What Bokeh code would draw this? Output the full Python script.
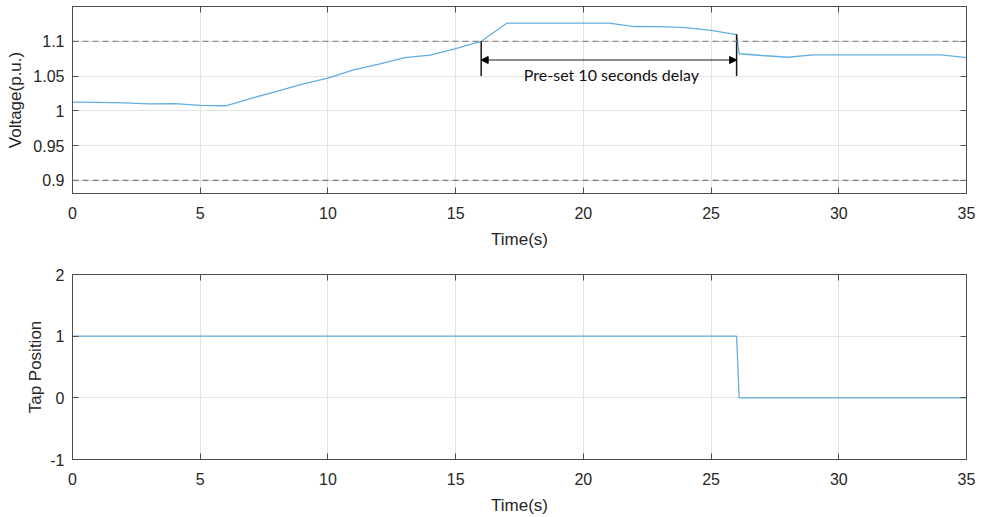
from bokeh.plotting import figure
from bokeh.layouts import column
from bokeh.models import (Span, Arrow, NormalHead, LinearAxis, FixedTicker,
                          Range1d, Label, CustomJSTickFormatter)
from bokeh.embed import file_html
from bokeh.resources import INLINE

# ---- data ----
time_v = [0, 1, 2, 3, 4, 5, 6, 7, 8, 9, 10, 11, 12, 13, 14, 15, 16, 17, 18, 19,
          20, 21, 22, 23, 24, 25, 26.0, 26.1, 27, 28, 29, 30, 31, 32, 33, 34, 35]
voltage = [1.0125, 1.0122, 1.0115, 1.0098, 1.0103, 1.0078, 1.0072, 1.018, 1.028,
           1.0385, 1.047, 1.0588, 1.067, 1.0765, 1.0800, 1.0894, 1.100, 1.126,
           1.126, 1.126, 1.126, 1.126, 1.1212, 1.1210, 1.1196, 1.1158, 1.1095,
           1.0820, 1.0795, 1.0770, 1.0803, 1.0803, 1.0803, 1.0803, 1.0803, 1.0803,
           1.0765]
time_tap = [0, 26.0, 26.1, 35]
tap = [1, 1, 0, 0]

limits = [1.1, 0.9]
delay_start, delay_end = 16, 26
marker_bottom = 1.05
marker_top_end = 1.11
arrow_level = 1.073
note_text = "Pre-set 10 seconds delay"
note_x, note_y = 21.1, 1.0515

x_ticks = [0, 5, 10, 15, 20, 25, 30, 35]
v_ticks = [0.9, 0.95, 1.0, 1.05, 1.1]
v_labels = {0.9: "0.9", 0.95: "0.95", 1.0: "1", 1.05: "1.05", 1.1: "1.1"}
tap_ticks = [-1, 0, 1, 2]
tap_labels = {-1: "-1", 0: "0", 1: "1", 2: "2"}

LINE = "#62aee0"
AX = "#4d4d4d"
TXT = "#262626"
GRID = "#e3e3e3"
FONT = "Liberation Sans"


def style(p, yticks, xlabel, ylabel, ylabels, ylabel_standoff):
    xa = p.below[0]
    ya = p.left[0]
    xa.ticker = FixedTicker(ticks=x_ticks)
    ya.ticker = FixedTicker(ticks=yticks)
    ya.major_label_overrides = ylabels
    xa.axis_label = xlabel
    ya.axis_label = ylabel
    for ax in (xa, ya):
        ax.major_tick_in = 6
        ax.major_tick_out = 0
        ax.minor_tick_line_color = None
        ax.axis_line_color = AX
        ax.major_tick_line_color = AX
        ax.major_label_text_font = FONT
        ax.major_label_text_font_size = "16px"
        ax.major_label_text_color = TXT
        ax.axis_label_text_font = FONT
        ax.axis_label_text_font_size = "17px"
        ax.axis_label_text_font_style = "normal"
        ax.axis_label_text_color = TXT
    xa.major_label_standoff = 13
    xa.axis_label_standoff = 8
    ya.major_label_standoff = 8
    ya.axis_label_standoff = ylabel_standoff
    p.xgrid.ticker = FixedTicker(ticks=x_ticks)
    p.ygrid.ticker = FixedTicker(ticks=yticks)
    p.grid.grid_line_color = GRID
    p.grid.grid_line_width = 1
    p.outline_line_color = AX
    p.outline_line_width = 1
    # ticks on top and right (no labels)
    blank = CustomJSTickFormatter(code="return ''")
    r = LinearAxis(ticker=FixedTicker(ticks=yticks), formatter=blank,
                   major_tick_in=6, major_tick_out=0, minor_tick_line_color=None,
                   axis_line_color=AX, major_tick_line_color=AX,
                   major_label_standoff=0, major_label_text_font_size="0px",
                   axis_label=None)
    t = LinearAxis(ticker=FixedTicker(ticks=x_ticks), formatter=blank,
                   major_tick_in=6, major_tick_out=0, minor_tick_line_color=None,
                   axis_line_color=AX, major_tick_line_color=AX,
                   major_label_standoff=0, major_label_text_font_size="0px",
                   axis_label=None)
    p.add_layout(r, "right")
    p.add_layout(t, "above")


# ---- top: voltage ----
p1 = figure(width=981, height=258, output_backend="svg", toolbar_location=None,
            x_range=Range1d(0, 35), y_range=Range1d(0.881, 1.15),
            min_border_left=72, min_border_right=15, min_border_top=6,
            min_border_bottom=65)
style(p1, v_ticks, "Time(s)", "Voltage(p.u.)", v_labels, 5)

for lv in limits:
    p1.add_layout(Span(location=lv, dimension="width", line_color="#7a7a7a",
                       line_dash="6 4", line_width=1.2))

p1.line(time_v, voltage, line_color=LINE, line_width=1.3)

p1.segment(x0=[delay_start, delay_end], y0=[marker_bottom, marker_bottom],
           x1=[delay_start, delay_end], y1=[limits[0], marker_top_end],
           line_color="#1a1a1a", line_width=1.5)
p1.add_layout(Arrow(x_start=delay_start, y_start=arrow_level,
                    x_end=delay_end, y_end=arrow_level,
                    line_color="#1a1a1a", line_width=1,
                    start=NormalHead(size=7, fill_color="black", line_color="black"),
                    end=NormalHead(size=7, fill_color="black", line_color="black")))
p1.add_layout(Label(x=note_x, y=note_y, text=note_text, text_font="Lato",
                    text_font_size="16px", text_color="#111111",
                    text_align="center", text_baseline="middle"))

# ---- bottom: tap position ----
p2 = figure(width=981, height=259, output_backend="svg", toolbar_location=None,
            x_range=Range1d(0, 35), y_range=Range1d(-1, 2),
            min_border_left=72, min_border_right=15, min_border_top=16,
            min_border_bottom=57)
style(p2, tap_ticks, "Time(s)", "Tap Position", tap_labels, 2)
p2.line(time_tap, tap, line_color=LINE, line_width=1.3)

layout = column(p1, p2, spacing=0)
open("out.html", "w").write(file_html(layout, INLINE))
